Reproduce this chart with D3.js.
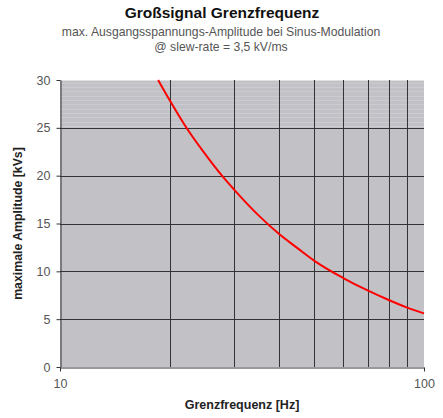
<!DOCTYPE html>
<html><head><meta charset="utf-8">
<script src="https://cdn.jsdelivr.net/npm/d3@7"></script>
<style>body{margin:0;background:#fff}svg{display:block;font-family:Arial,"Liberation Sans",sans-serif}</style>
</head><body>
<svg id="c" width="443" height="418"></svg>
<script>
const freq = [18.6, 20, 22, 25, 28, 30, 35, 40, 45, 50, 60, 70, 80, 90, 100];
const amplitude = [30.0, 27.9, 25.3, 22.3, 19.9, 18.6, 15.9, 13.9, 12.4, 11.1, 9.3, 8.0, 7.0, 6.2, 5.6];
const yTicks = [0, 5, 10, 15, 20, 25, 30];
const xGrid = [20, 30, 40, 50, 60, 70, 80, 90];
const xTickLabels = [10, 100];
const title = "Großsignal Grenzfrequenz";
const subtitle = ["max. Ausgangsspannungs-Amplitude bei Sinus-Modulation", "@ slew-rate = 3,5 kV/ms"];
const xTitle = "Grenzfrequenz [Hz]";
const yTitle = "maximale Amplitude [kVs]";

const svg = d3.select("#c");
const L = 60, R = 424, T = 80, B = 367;
const x = d3.scaleLog().domain([10, 100]).range([L, R]);
const y = d3.scaleLinear().domain([0, 30]).range([B, T]);

svg.append("rect").attr("x", L).attr("y", T).attr("width", R - L).attr("height", B - T).attr("fill", "#c2c2c6");
// faint horizontal stripes in top band
const stripes = d3.range(25.2, 30, 0.45);
svg.append("g").selectAll("line").data(stripes).join("line")
  .attr("x1", L).attr("x2", R).attr("y1", d => Math.round(y(d)) + 0.5).attr("y2", d => Math.round(y(d)) + 0.5)
  .attr("stroke", "#cbcbd3").attr("stroke-width", 1);
svg.append("line").attr("x1", L).attr("x2", R).attr("y1", T + 0.5).attr("y2", T + 0.5).attr("stroke", "#e0e0e0");

// grid
svg.append("g").selectAll("line").data(yTicks.filter(d => d > 0 && d < 30)).join("line")
  .attr("x1", L).attr("x2", R).attr("y1", d => Math.round(y(d)) + 0.5).attr("y2", d => Math.round(y(d)) + 0.5)
  .attr("stroke", "#333").attr("stroke-width", 1);
svg.append("g").selectAll("line").data(xGrid).join("line")
  .attr("y1", T).attr("y2", B).attr("x1", d => Math.round(x(d)) + 0.5).attr("x2", d => Math.round(x(d)) + 0.5)
  .attr("stroke", "#333").attr("stroke-width", 1);

// axes
const ya = svg.append("g").attr("transform", `translate(${L + 0.5},0)`)
  .call(d3.axisLeft(y).tickValues(yTicks).tickSize(4).tickSizeOuter(0).tickPadding(6));
ya.select(".domain").attr("stroke", "#333");
ya.selectAll(".tick line").attr("stroke", "#333");
ya.selectAll("text").attr("fill", "#555").attr("font-size", 12.5).attr("font-family", "Arial");

const xa = svg.append("g").attr("transform", `translate(0,${B + 0.5})`)
  .call(d3.axisBottom(x).tickValues(xTickLabels).tickFormat(d3.format("d")).tickSize(4).tickSizeOuter(0).tickPadding(8));
xa.select(".domain").attr("stroke", "#333");
xa.selectAll(".tick line").attr("stroke", "#333");
xa.selectAll("text").attr("fill", "#555").attr("font-size", 12.5).attr("font-family", "Arial");

// curve
const line = d3.line().x(d => x(d[0])).y(d => y(d[1])).curve(d3.curveMonotoneX);
svg.append("path").datum(freq.map((f, i) => [f, amplitude[i]]))
  .attr("d", line).attr("fill", "none").attr("stroke", "#ff0000").attr("stroke-width", 2);

// titles
svg.append("text").attr("x", 222).attr("y", 18).attr("text-anchor", "middle")
  .attr("font-weight", "bold").attr("font-size", 15.5).attr("fill", "#111").text(title);
svg.append("g").selectAll("text").data(subtitle).join("text")
  .attr("x", 221).attr("y", (d, i) => 36 + i * 15).attr("text-anchor", "middle")
  .attr("font-size", 12.2).attr("fill", "#555").text(d => d);
svg.append("text").attr("x", 242).attr("y", 409).attr("text-anchor", "middle")
  .attr("font-weight", "bold").attr("font-size", 12.5).attr("fill", "#222").text(xTitle);
svg.append("text").attr("transform", `translate(22,${(T + B) / 2}) rotate(-90)`).attr("text-anchor", "middle")
  .attr("font-weight", "bold").attr("font-size", 12.3).attr("fill", "#222").text(yTitle);
</script>
</body></html>
